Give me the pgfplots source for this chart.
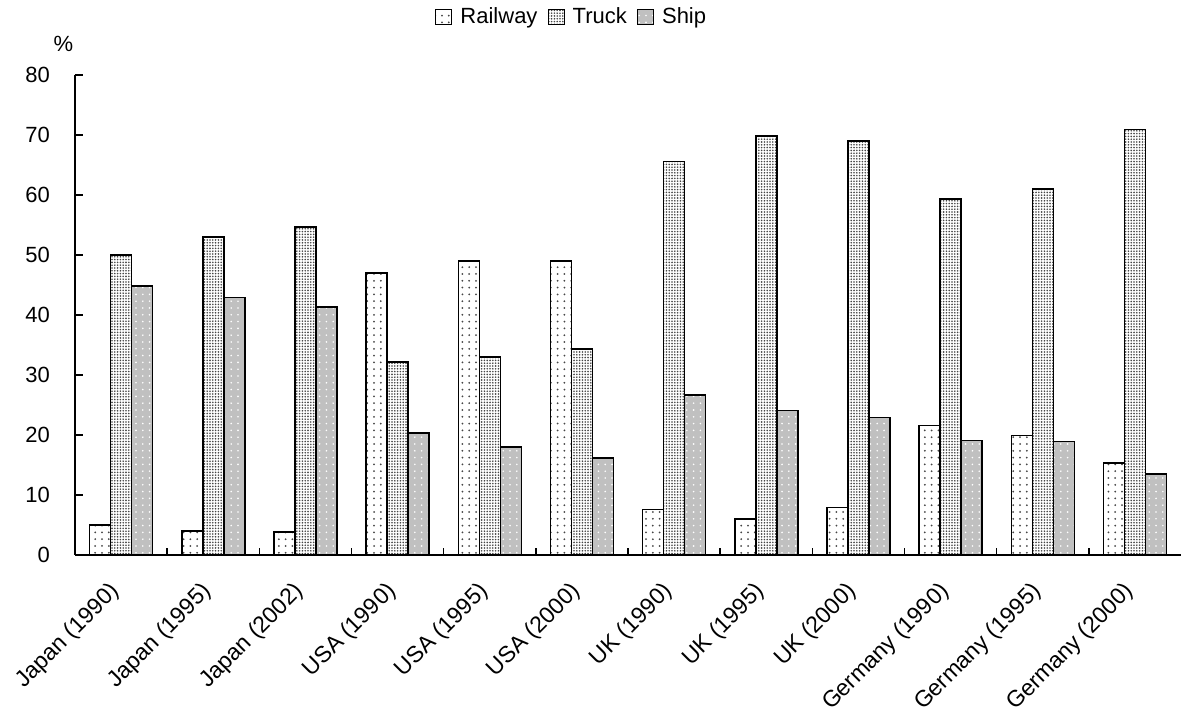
\documentclass[border=0pt]{standalone}
\usepackage{pgfplots}
\pgfplotsset{compat=1.18}
\usepackage{fontspec}
\setmainfont{Liberation Sans}
\usetikzlibrary{patterns.meta}

\definecolor{shipgray}{RGB}{192,192,192}
\definecolor{dotgray}{RGB}{70,70,70}

\tikzset{
  railway/.style={fill=white, postaction={pattern={Dots[distance=3.4pt, radius=0.5pt]}, pattern color=dotgray}},
  truck/.style={fill=white, postaction={pattern={Dots[distance=1.4pt, radius=0.45pt]}, pattern color=dotgray}},
  ship/.style={fill=shipgray, postaction={pattern={Dots[distance=3.4pt, radius=0.45pt]}, pattern color=white}},
}

\pgfplotstableread{
idx railway truck ship
0   5.0   50.0  44.8
1   4.0   53.0  42.9
2   3.8   54.7  41.3
3   47.0  32.2  20.3
4   49.0  33.0  18.0
5   49.0  34.3  16.2
6   7.6   65.6  26.7
7   6.0   69.8  24.1
8   7.9   69.0  22.9
9   21.6  59.3  19.1
10  19.9  61.0  18.9
11  15.3  70.9  13.5
}\freight

\begin{document}
\begin{tikzpicture}
\useasboundingbox (-37.5pt,-80.5pt) rectangle (558.5pt,277.5pt);
\begin{axis}[
  name=ax,
  anchor=south west, at={(0,0)},
  scale only axis,
  width=553pt, height=240pt,
  ybar=0pt, bar width=10.5pt,
  xmin=-0.5, xmax=11.5,
  ymin=0, ymax=80,
  ytick={0,10,...,80},
  axis x line=bottom, axis y line=left,
  axis line style={black, line width=0.75pt, -},
  tick align=inside,
  major tick length=4pt,
  minor tick length=3.5pt,
  xtick={0,...,11},
  minor x tick num=1,
  major x tick style={draw=none},
  minor x tick style={draw=black, line width=0.75pt},
  y tick style={draw=black, line width=0.75pt},
  xticklabels={Japan (1990),Japan (1995),Japan (2002),USA (1990),USA (1995),USA (2000),UK (1990),UK (1995),UK (2000),Germany (1990),Germany (1995),Germany (2000)},
  xticklabel style={xshift=-2.5pt, yshift=-16.5pt, rotate=45, anchor=east, inner sep=0pt, font=\fontsize{11.5}{13}\selectfont},
  yticklabel style={font=\fontsize{11}{13}\selectfont, xshift=-9pt},
  /pgf/number format/assume math mode=true,
  ylabel={\%},
  ylabel style={rotate=-90, at={(axis description cs:-0.0104,1.065)}, anchor=center, font=\fontsize{11}{13}\selectfont},
  legend columns=3,
  legend style={draw=none, fill=none, at={(axis description cs:0.45,1.121)}, anchor=center,
    font=\fontsize{11}{13}\selectfont,
    /tikz/every odd column/.append style={column sep=2pt},
    /tikz/every even column/.append style={column sep=3pt},
    /tikz/column 4/.append style={column sep=11pt}},
  legend image code/.code={\draw[#1, draw=black, line width=0.6pt] (0pt,-3.6pt) rectangle (8pt,3.6pt);},
  every axis plot/.append style={draw=black, line width=0.75pt},
]
\addplot[railway] table[x=idx, y=railway] {\freight};
\addplot[truck] table[x=idx, y=truck] {\freight};
\addplot[ship] table[x=idx, y=ship] {\freight};
\legend{Railway,Truck,Ship}
\end{axis}
\end{tikzpicture}
\end{document}
